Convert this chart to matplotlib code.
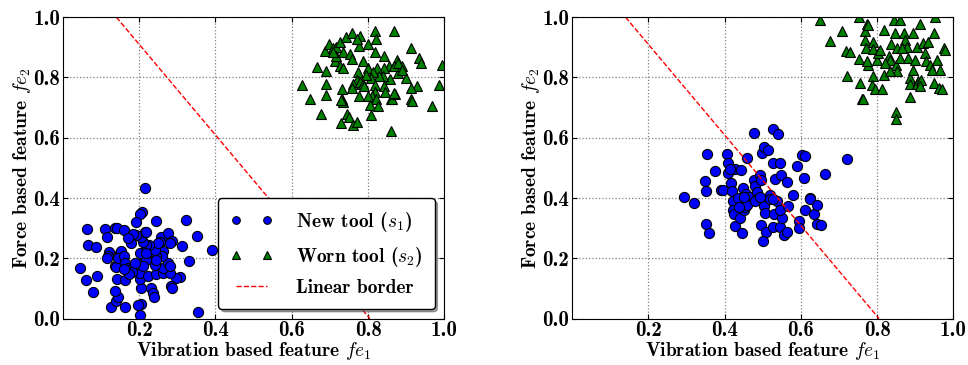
import matplotlib
matplotlib.use("Agg")
import matplotlib.pyplot as plt

plt.rcParams["font.family"] = "cmb10"
plt.rcParams["mathtext.fontset"] = "cm"
plt.rcParams["axes.unicode_minus"] = False

# left panel: new tool (circles)
new1_x = [0.216, 0.207, 0.201, 0.064, 0.111, 0.136, 0.142, 0.159, 0.116, 0.172,
          0.192, 0.243, 0.322, 0.352, 0.392, 0.311, 0.331, 0.306, 0.296, 0.354,
          0.065, 0.086, 0.044, 0.061, 0.090, 0.080, 0.127, 0.140, 0.145, 0.162,
          0.136, 0.142, 0.164, 0.201, 0.206, 0.197, 0.232, 0.236, 0.238, 0.206,
          0.201, 0.203, 0.223, 0.223, 0.245, 0.262, 0.280, 0.262, 0.284, 0.286,
          0.276, 0.282, 0.262, 0.261, 0.245, 0.232, 0.241, 0.258, 0.276, 0.287,
          0.280, 0.254, 0.249, 0.226, 0.217, 0.210, 0.206, 0.214, 0.219, 0.192,
          0.184, 0.179, 0.171, 0.149, 0.153, 0.121, 0.118, 0.116, 0.136, 0.140,
          0.144, 0.159, 0.164, 0.171, 0.179, 0.181, 0.174, 0.159, 0.212, 0.219,
          0.210, 0.241, 0.245, 0.188, 0.201, 0.219]
new1_y = [0.432, 0.355, 0.346, 0.296, 0.297, 0.301, 0.299, 0.293, 0.270, 0.266,
          0.321, 0.323, 0.326, 0.275, 0.228, 0.242, 0.192, 0.138, 0.136, 0.022,
          0.245, 0.237, 0.168, 0.128, 0.141, 0.089, 0.038, 0.057, 0.071, 0.038,
          0.092, 0.130, 0.128, 0.013, 0.049, 0.046, 0.103, 0.085, 0.071, 0.103,
          0.130, 0.152, 0.141, 0.201, 0.147, 0.152, 0.152, 0.168, 0.109, 0.100,
          0.185, 0.176, 0.223, 0.209, 0.207, 0.223, 0.228, 0.272, 0.283, 0.258,
          0.252, 0.255, 0.250, 0.245, 0.245, 0.253, 0.272, 0.286, 0.288, 0.277,
          0.280, 0.250, 0.266, 0.217, 0.223, 0.220, 0.207, 0.201, 0.176, 0.172,
          0.201, 0.207, 0.183, 0.168, 0.165, 0.154, 0.147, 0.165, 0.190, 0.196,
          0.174, 0.179, 0.196, 0.185, 0.217, 0.217]

# left panel: worn tool (triangles)
worn1_x = [0.627, 0.647, 0.676, 0.667, 0.689, 0.687, 0.698, 0.709, 0.716, 0.726,
           0.741, 0.757, 0.779, 0.818, 0.869, 0.801, 0.820, 0.777, 0.818, 0.842,
           0.912, 0.934, 0.940, 0.995, 0.987, 0.969, 0.929, 0.912, 0.912, 0.914,
           0.899, 0.879, 0.875, 0.856, 0.868, 0.888, 0.842, 0.824, 0.801, 0.787,
           0.857, 0.840, 0.829, 0.814, 0.807, 0.794, 0.774, 0.770, 0.761, 0.759,
           0.779, 0.787, 0.789, 0.818, 0.842, 0.844, 0.818, 0.811, 0.801, 0.821,
           0.805, 0.825, 0.859, 0.864, 0.871, 0.868, 0.807, 0.859, 0.731, 0.732,
           0.735, 0.728, 0.776, 0.744, 0.750, 0.761, 0.770, 0.728, 0.691, 0.689,
           0.713, 0.717, 0.726, 0.735, 0.735, 0.754, 0.759, 0.770, 0.709, 0.879,
           0.888]
worn1_y = [0.774, 0.730, 0.679, 0.834, 0.823, 0.889, 0.910, 0.899, 0.902, 0.918,
           0.935, 0.946, 0.938, 0.954, 0.953, 0.910, 0.926, 0.904, 0.886, 0.872,
           0.899, 0.866, 0.848, 0.842, 0.775, 0.704, 0.770, 0.766, 0.728, 0.723,
           0.799, 0.815, 0.859, 0.839, 0.839, 0.837, 0.832, 0.832, 0.832, 0.853,
           0.796, 0.804, 0.804, 0.817, 0.799, 0.807, 0.817, 0.790, 0.779, 0.766,
           0.785, 0.779, 0.770, 0.774, 0.770, 0.752, 0.752, 0.737, 0.739, 0.728,
           0.709, 0.704, 0.730, 0.730, 0.745, 0.750, 0.674, 0.622, 0.761, 0.728,
           0.717, 0.725, 0.739, 0.679, 0.668, 0.641, 0.652, 0.650, 0.742, 0.779,
           0.853, 0.870, 0.837, 0.832, 0.886, 0.877, 0.861, 0.926, 0.883, 0.848,
           0.826]

# right panel: new tool (circles)
new2_x = [0.293, 0.319, 0.354, 0.349, 0.352, 0.376, 0.352, 0.358, 0.391, 0.396,
          0.406, 0.408, 0.410, 0.428, 0.417, 0.419, 0.422, 0.422, 0.424, 0.428,
          0.443, 0.434, 0.441, 0.445, 0.447, 0.450, 0.454, 0.459, 0.457, 0.463,
          0.459, 0.476, 0.476, 0.480, 0.485, 0.485, 0.480, 0.492, 0.495, 0.498,
          0.504, 0.513, 0.495, 0.509, 0.500, 0.502, 0.507, 0.518, 0.518, 0.527,
          0.533, 0.528, 0.541, 0.546, 0.548, 0.530, 0.528, 0.537, 0.544, 0.550,
          0.555, 0.546, 0.563, 0.566, 0.563, 0.579, 0.590, 0.603, 0.610, 0.607,
          0.594, 0.594, 0.611, 0.623, 0.624, 0.633, 0.642, 0.642, 0.653, 0.662,
          0.722, 0.437, 0.415, 0.492, 0.528, 0.450]
new2_y = [0.402, 0.384, 0.547, 0.457, 0.422, 0.491, 0.313, 0.285, 0.426, 0.426,
          0.547, 0.484, 0.516, 0.495, 0.449, 0.424, 0.389, 0.359, 0.348, 0.307,
          0.492, 0.400, 0.335, 0.285, 0.433, 0.359, 0.370, 0.533, 0.413, 0.404,
          0.378, 0.616, 0.460, 0.440, 0.421, 0.397, 0.391, 0.475, 0.459, 0.549,
          0.568, 0.558, 0.312, 0.286, 0.258, 0.375, 0.350, 0.411, 0.397, 0.516,
          0.462, 0.630, 0.612, 0.516, 0.478, 0.348, 0.304, 0.389, 0.304, 0.335,
          0.277, 0.362, 0.454, 0.372, 0.288, 0.410, 0.505, 0.543, 0.538, 0.467,
          0.324, 0.299, 0.362, 0.400, 0.397, 0.346, 0.378, 0.313, 0.310, 0.480,
          0.528, 0.370, 0.495, 0.402, 0.397, 0.402]

# right panel: worn tool (triangles)
worn2_x = [0.651, 0.677, 0.709, 0.721, 0.719, 0.728, 0.751, 0.755, 0.760, 0.764,
           0.751, 0.769, 0.773, 0.777, 0.769, 0.771, 0.790, 0.790, 0.775, 0.773,
           0.790, 0.786, 0.795, 0.812, 0.817, 0.818, 0.799, 0.802, 0.808, 0.830,
           0.834, 0.837, 0.843, 0.860, 0.847, 0.852, 0.850, 0.853, 0.859, 0.869,
           0.873, 0.878, 0.882, 0.886, 0.885, 0.886, 0.850, 0.850, 0.895, 0.900,
           0.904, 0.913, 0.895, 0.908, 0.904, 0.914, 0.921, 0.926, 0.928, 0.932,
           0.939, 0.943, 0.948, 0.948, 0.956, 0.961, 0.965, 0.969, 0.974, 0.978,
           0.952, 0.913, 0.865, 0.834, 0.821]
worn2_y = [0.989, 0.922, 0.953, 0.804, 0.888, 0.884, 0.861, 0.783, 0.730, 0.728,
           1.002, 0.954, 0.978, 0.973, 0.924, 0.897, 0.918, 0.893, 0.842, 0.853,
           0.804, 0.774, 0.761, 0.763, 0.959, 0.807, 0.859, 0.880, 0.891, 0.870,
           0.859, 0.910, 0.989, 0.989, 0.946, 0.897, 0.842, 0.821, 0.864, 0.946,
           0.924, 0.902, 0.864, 0.799, 0.777, 0.734, 0.687, 0.663, 0.946, 0.859,
           0.902, 0.978, 0.826, 0.788, 0.777, 0.793, 0.913, 0.880, 0.853, 0.918,
           0.842, 0.826, 0.946, 0.783, 0.859, 0.766, 0.826, 0.761, 0.897, 0.891,
           1.002, 0.772, 0.897, 0.821, 0.848]

# linear decision border
border_x = [0.14, 0.805]
border_y = [1.0, 0.0]

fig = plt.figure(figsize=(9.68, 3.65), dpi=100)
ax1 = fig.add_axes([0.065, 0.127, 0.394, 0.826])
ax2 = fig.add_axes([0.591, 0.127, 0.394, 0.826])

for ax, nx, ny, wx, wy in [(ax1, new1_x, new1_y, worn1_x, worn1_y),
                           (ax2, new2_x, new2_y, worn2_x, worn2_y)]:
    ax.plot(nx, ny, "o", color="blue", mec="black", mew=0.8, ms=7.3,
            label=r"New tool ($s_1$)")
    ax.plot(wx, wy, "^", color="green", mec="black", mew=0.8, ms=7.3,
            label=r"Worn tool ($s_2$)")
    ax.plot(border_x, border_y, "r--", lw=1, label="Linear border")
    ax.set_xlim(0, 1)
    ax.set_ylim(0, 1)
    ax.set_xticks([0.2, 0.4, 0.6, 0.8, 1.0])
    ax.set_yticks([0.0, 0.2, 0.4, 0.6, 0.8, 1.0])
    ax.grid(True, linestyle=":", color="gray", lw=0.9)
    ax.tick_params(direction="in", top=True, right=True, labelsize=15, pad=2)
    ax.set_xlabel(r"Vibration based feature $fe_1$", fontsize=14, labelpad=0)
    ax.set_ylabel(r"Force based feature $fe_2$", fontsize=14, labelpad=0)

leg = ax1.legend(loc="lower right", numpoints=2, handlelength=2.2,
                 handletextpad=1.2, markerscale=0.75, fancybox=True,
                 shadow=True, fontsize=14, borderpad=0.6, labelspacing=0.55,
                 framealpha=1, edgecolor="black")
leg.get_frame().set_linewidth(1)
leg.set_zorder(5)

fig.savefig("out.png", dpi=100)
